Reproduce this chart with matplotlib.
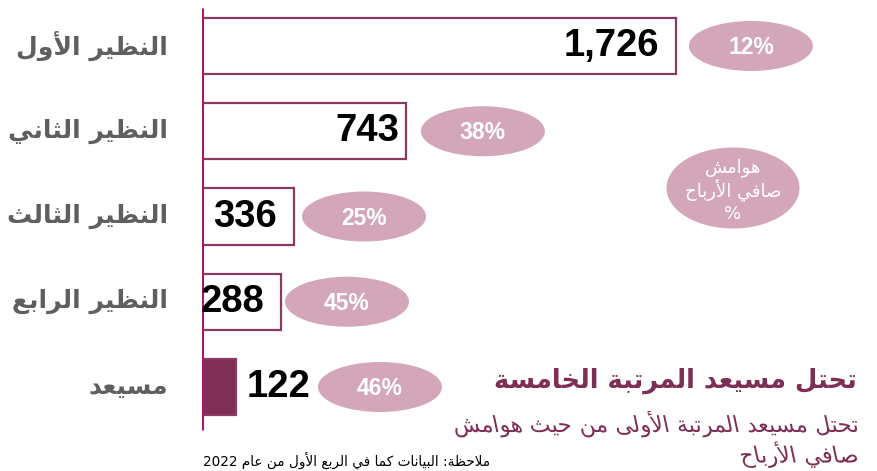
import matplotlib
matplotlib.use("Agg")
import matplotlib.pyplot as plt
from matplotlib.patches import Ellipse
from matplotlib.patheffects import AbstractPathEffect
from matplotlib.transforms import Affine2D

plt.rcParams["font.family"] = ["DejaVu Sans"]

# ---- data -------------------------------------------------------------
peers = ["النظير الأول", "النظير الثاني", "النظير الثالث", "النظير الرابع", "مسيعد"]
revenue = [1726, 743, 336, 288, 122]
margin = [12, 38, 25, 45, 46]

title = "تحتل مسيعد المرتبة الخامسة"
subtitle = ["تحتل مسيعد المرتبة الأولى من حيث هوامش", "صافي الأرباح"]
bubble_note = "هوامش\nصافي الأرباح\n%"
footnote = "ملاحظة: البيانات كما في الربع الأول من عام 2022"

# ---- minimal Arabic shaping (matplotlib has no bidi / joining) ---------
_FORMS = {  # isolated, final, initial, medial
    "ء": (0xFE80,), "آ": (0xFE81, 0xFE82), "أ": (0xFE83, 0xFE84),
    "ؤ": (0xFE85, 0xFE86), "إ": (0xFE87, 0xFE88),
    "ئ": (0xFE89, 0xFE8A, 0xFE8B, 0xFE8C), "ا": (0xFE8D, 0xFE8E),
    "ب": (0xFE8F, 0xFE90, 0xFE91, 0xFE92), "ة": (0xFE93, 0xFE94),
    "ت": (0xFE95, 0xFE96, 0xFE97, 0xFE98), "ث": (0xFE99, 0xFE9A, 0xFE9B, 0xFE9C),
    "ج": (0xFE9D, 0xFE9E, 0xFE9F, 0xFEA0), "ح": (0xFEA1, 0xFEA2, 0xFEA3, 0xFEA4),
    "خ": (0xFEA5, 0xFEA6, 0xFEA7, 0xFEA8), "د": (0xFEA9, 0xFEAA),
    "ذ": (0xFEAB, 0xFEAC), "ر": (0xFEAD, 0xFEAE), "ز": (0xFEAF, 0xFEB0),
    "س": (0xFEB1, 0xFEB2, 0xFEB3, 0xFEB4), "ش": (0xFEB5, 0xFEB6, 0xFEB7, 0xFEB8),
    "ص": (0xFEB9, 0xFEBA, 0xFEBB, 0xFEBC), "ض": (0xFEBD, 0xFEBE, 0xFEBF, 0xFEC0),
    "ط": (0xFEC1, 0xFEC2, 0xFEC3, 0xFEC4), "ظ": (0xFEC5, 0xFEC6, 0xFEC7, 0xFEC8),
    "ع": (0xFEC9, 0xFECA, 0xFECB, 0xFECC), "غ": (0xFECD, 0xFECE, 0xFECF, 0xFED0),
    "ف": (0xFED1, 0xFED2, 0xFED3, 0xFED4), "ق": (0xFED5, 0xFED6, 0xFED7, 0xFED8),
    "ك": (0xFED9, 0xFEDA, 0xFEDB, 0xFEDC), "ل": (0xFEDD, 0xFEDE, 0xFEDF, 0xFEE0),
    "م": (0xFEE1, 0xFEE2, 0xFEE3, 0xFEE4), "ن": (0xFEE5, 0xFEE6, 0xFEE7, 0xFEE8),
    "ه": (0xFEE9, 0xFEEA, 0xFEEB, 0xFEEC), "و": (0xFEED, 0xFEEE),
    "ى": (0xFEEF, 0xFEF0), "ي": (0xFEF1, 0xFEF2, 0xFEF3, 0xFEF4),
    "\ufef5": (0xFEF5, 0xFEF6), "\ufef7": (0xFEF7, 0xFEF8),
    "\ufef9": (0xFEF9, 0xFEFA), "\ufefb": (0xFEFB, 0xFEFC),
}
_LAM_ALEF = {"آ": "\ufef5", "أ": "\ufef7", "إ": "\ufef9", "ا": "\ufefb"}


def _shape_line(s):
    for a, lig in _LAM_ALEF.items():
        s = s.replace("ل" + a, lig)
    out = []
    for i, c in enumerate(s):
        f = _FORMS.get(c)
        if f is None:
            out.append(c)
            continue
        prev = s[i - 1] if i > 0 else ""
        nxt = s[i + 1] if i + 1 < len(s) else ""
        join_prev = prev in _FORMS and len(_FORMS[prev]) == 4
        join_next = len(f) == 4 and nxt in _FORMS
        if join_prev and join_next:
            k = 3
        elif join_prev:
            k = 1
        elif join_next:
            k = 2
        else:
            k = 0
        out.append(chr(f[min(k, len(f) - 1)] if len(f) > 1 else f[0]))
    # visual order: reverse, keeping runs of latin digits left-to-right
    runs, cur, ltr = [], "", None
    for c in "".join(out):
        is_ltr = c.isascii() and c.isalnum()
        if ltr is None or is_ltr == ltr:
            cur += c
        else:
            runs.append((cur, ltr))
            cur = c
        ltr = is_ltr
    runs.append((cur, ltr))
    return "".join(r if l else r[::-1] for r, l in reversed(runs))


def ar(s):
    return "\n".join(_shape_line(line) for line in s.split("\n"))


class Slant(AbstractPathEffect):
    """Fake italic: DejaVu Sans Oblique has no Arabic glyphs."""

    def __init__(self, deg):
        super().__init__()
        self.deg = deg

    def draw_path(self, renderer, gc, tpath, affine, rgbFace=None):
        renderer.draw_path(gc, tpath, Affine2D().skew_deg(self.deg, 0) + affine,
                           rgbFace)


# ---- figure -----------------------------------------------------------
W, H = 877, 471
fig = plt.figure(figsize=(W / 100, H / 100), dpi=100)
x0 = 202 / W
ax = fig.add_axes([x0, 0, 1 - x0, 1])
ax.set_xlim(0, (W - 202) / 0.2746)
step = 85.25
ax.set_ylim((H - 46) / step, -46 / step)
ax.axis("off")

ypos = list(range(len(peers)))
outline = "#8a3a62"
dark = "#7f2e55"
pink = "#d3a6b9"

colors = ["white"] * (len(peers) - 1) + [dark]
ax.barh(ypos, revenue, height=0.66, color=colors, edgecolor=outline,
        linewidth=1.6, zorder=2)
ax.plot([0, 0], [(8 - 46) / step, (430 - 46) / step], color="#a6186c",
        linewidth=2.2, zorder=3, solid_capstyle="butt")

# value labels (last one sits outside its filled bar)
lab_off = [-17, -7, -17, -17, 11]
for y, v, off in zip(ypos, revenue, lab_off):
    ax.annotate(f"{v:,}", (v, y), xytext=(off * 0.72, 0), textcoords="offset points",
                ha="right" if off < 0 else "left", va="center",
                fontsize=27.5, fontweight="bold", family="Liberation Sans",
                color="black", zorder=4)

# margin bubbles
bubble_x = [1999, 1023, 590, 528, 648]
bw = 124 / 0.2746
bh = 50 / step
for y, m, bx in zip(ypos, margin, bubble_x):
    ax.add_patch(Ellipse((bx, y), bw, bh, facecolor=pink, edgecolor="none",
                         zorder=3))
    ax.text(bx, y + 0.02, f"{m}%", ha="center", va="center", fontsize=16.5,
            fontweight="bold", family="Liberation Sans", color="white", zorder=4)

# legend bubble
lx, ly = (733 - 202) / 0.2746, (188 - 46) / step
ax.add_patch(Ellipse((lx, ly), 133 / 0.2746, 81 / step, facecolor=pink,
                     edgecolor="none", zorder=3))
ax.text(lx, ly + 0.03, ar(bubble_note), ha="center", va="center", fontsize=13,
        color="white", linespacing=1.2, zorder=4)

# category labels
for y, name in zip(ypos, peers):
    fig.text(168 / W, 1 - (46 + step * y) / H, ar(name), ha="right", va="center",
             fontsize=18, fontweight="bold", color="#5f5f5f")

# annotation on the right
fig.text(857 / W, 1 - 381 / H, ar(title), ha="right", va="center",
         fontsize=18.5, fontweight="bold", color=dark)
for line, py in zip(subtitle, [424, 455]):
    fig.text(860 / W, 1 - py / H, ar(line), ha="right", va="center",
             fontsize=16, color=dark, path_effects=[Slant(-12)])

fig.text(490 / W, 2 / H, ar(footnote), ha="right", va="bottom",
         fontsize=9.8, color="black")

fig.savefig("out.png", dpi=100)
